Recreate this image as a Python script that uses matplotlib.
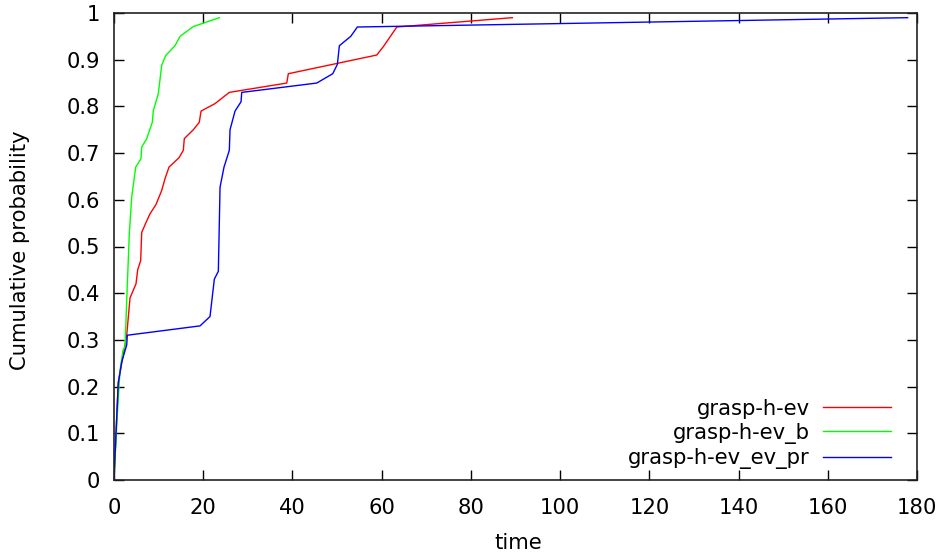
import matplotlib
matplotlib.use("Agg")
import matplotlib.pyplot as plt

# CDF curves (time, cumulative probability)
red_t = [0, 0.45, 0.96, 1.73, 2.85, 3.59, 4.93, 5.31, 5.98, 6.21, 7.11, 8.07, 9.42,
         10.69, 11.43, 12.33, 14.57, 15.54, 15.76, 17.78, 19.12, 19.51, 22.65, 25.85,
         38.72, 39.08, 58.9, 60.38, 63.39, 89.3]
red_p = [0, 0.10, 0.21, 0.25, 0.31, 0.39, 0.42, 0.45, 0.47, 0.53, 0.55, 0.57, 0.59,
         0.62, 0.645, 0.67, 0.69, 0.706, 0.731, 0.75, 0.766, 0.79, 0.806, 0.83,
         0.85, 0.87, 0.91, 0.928, 0.97, 0.99]

green_t = [0, 0.67, 1.35, 2.02, 2.47, 2.85, 3.43, 3.97, 4.87, 6.05, 6.21, 7.33, 8.59,
           8.81, 9.93, 10.69, 11.59, 13.68, 14.8, 17.78, 23.61]
green_p = [0, 0.128, 0.235, 0.278, 0.285, 0.385, 0.527, 0.606, 0.67, 0.688, 0.713,
           0.731, 0.766, 0.791, 0.827, 0.888, 0.909, 0.93, 0.95, 0.971, 0.99]

blue_t = [0, 0.45, 0.96, 1.73, 2.85, 2.98, 19.28, 21.52, 22.49, 23.39, 23.77, 24.66,
          25.85, 26.01, 27.13, 28.48, 28.63, 45.45, 49.03, 50.07, 50.52, 53.07, 54.55,
          177.9]
blue_p = [0, 0.10, 0.207, 0.253, 0.289, 0.31, 0.33, 0.35, 0.43, 0.447, 0.627, 0.67,
          0.706, 0.75, 0.79, 0.81, 0.83, 0.85, 0.87, 0.89, 0.93, 0.95, 0.97, 0.99]

labels = ["grasp-h-ev", "grasp-h-ev_b", "grasp-h-ev_ev_pr"]
colors = ["#ff0000", "#00ff00", "#0000ff"]
fs = 15.2

plt.rcParams['font.family'] = ['DejaVu Sans']
fig = plt.figure(figsize=(9.43, 5.54), dpi=100)
ax = fig.add_axes([114 / 943, 1 - 480 / 554, (917 - 114) / 943, (480 - 13) / 554])

ax.plot(red_t, red_p, color=colors[0], lw=1.0, label=labels[0])
ax.plot(green_t, green_p, color=colors[1], lw=1.0, label=labels[1])
ax.plot(blue_t, blue_p, color=colors[2], lw=1.0, label=labels[2])

ax.set_xlim(0, 180)
ax.set_ylim(0, 1)
ax.set_xticks(range(0, 181, 20))
ax.set_yticks([i / 10 for i in range(11)])
ax.set_yticklabels(["0"] + ["%.1f" % (i / 10) for i in range(1, 10)] + ["1"])
ax.tick_params(direction="in", length=7, width=1, top=True, right=True,
               labelsize=fs, colors="black")
ax.tick_params(axis="x", pad=13)
ax.tick_params(axis="y", pad=10)
for s in ax.spines.values():
    s.set_linewidth(1.2)
    s.set_color("#222222")

ax.set_xlabel("time", fontsize=fs, va="center")
ax.set_ylabel("Cumulative probability", fontsize=fs, va="center")
ax.xaxis.set_label_coords((518 - 114) / 803, (480 - 543) / 467)
ax.yaxis.set_label_coords((20 - 114) / 803, (480 - 250) / 467)

ax.legend(loc="lower right", bbox_to_anchor=(891 / 943, (554 - 469) / 554),
          bbox_transform=fig.transFigure, frameon=False, markerfirst=False,
          fontsize=fs, handlelength=3.2, handletextpad=0.65, labelspacing=0.2,
          borderpad=0, borderaxespad=0)

fig.savefig("out.png", dpi=100)
